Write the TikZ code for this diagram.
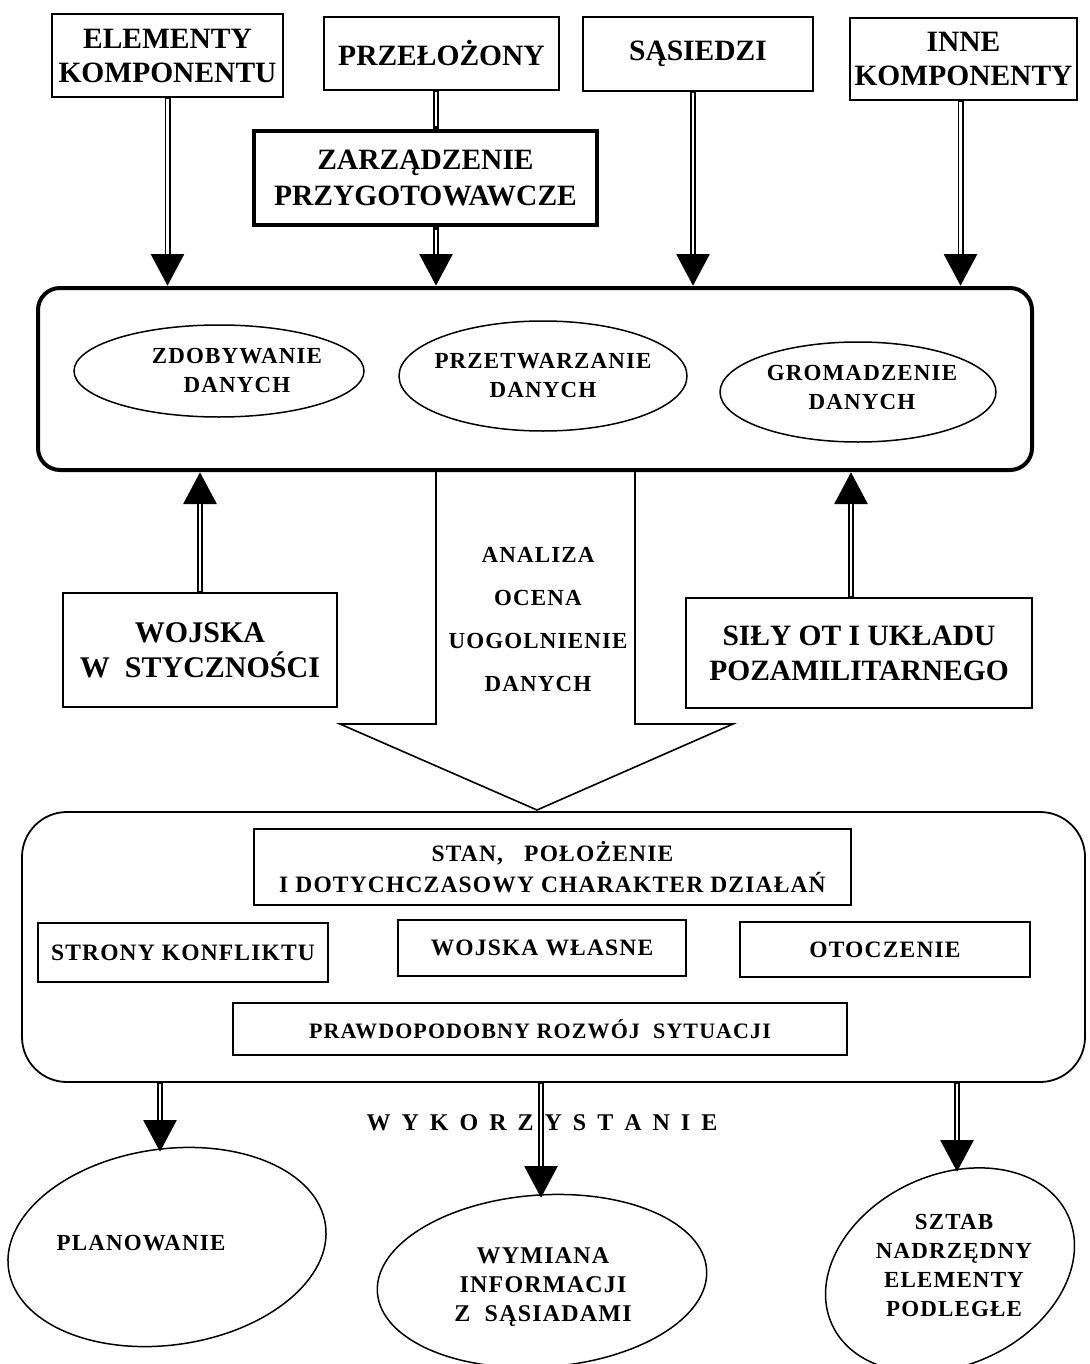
\documentclass[tikz,border=0pt]{standalone}
\usepackage{fontspec}
\setmainfont{Liberation Serif}
\newfontfamily\spacedserif[LetterSpace=5]{Liberation Serif}
\usetikzlibrary{arrows.meta,shapes.geometric}
\begin{document}
\begin{tikzpicture}[x=1pt,y=-1pt,
  srcbox/.style={draw, line width=1.6pt, rectangle, inner sep=0pt, align=center,
    font=\fontsize{29.5}{34}\selectfont\bfseries},
  inbox/.style={draw, line width=1.4pt, rectangle, inner sep=0pt, align=center,
    font=\spacedserif\fontsize{23.5}{31}\selectfont\bfseries},
  oval/.style={draw, line width=1.5pt, ellipse, inner sep=0pt, align=center},
  ovtext/.style={align=center, inner sep=0pt, font=\spacedserif\fontsize{23}{29}\selectfont\bfseries},
  dblline/.style={line width=6pt, line cap=butt},
  dblhead/.style={line width=6pt, -{Triangle[length=32pt,width=32pt]}},
  dblgap/.style={white, line width=2.6pt, line cap=butt},
]
\useasboundingbox (0,0) rectangle (1089,1364);
\fill[white] (0,0) rectangle (1089,1364);

% ---- top source boxes
\node[srcbox, minimum width=231pt, minimum height=83pt] (elem) at (167.5,55.5) {ELEMENTY\\KOMPONENTU};
\node[srcbox, minimum width=235pt, minimum height=73pt] (prze) at (441.5,53.5) {PRZEŁOŻONY};
\node[srcbox, minimum width=230pt, minimum height=74pt] (sas) at (698,54) {SĄSIEDZI};
\node[srcbox, minimum width=227pt, minimum height=82pt] (inne) at (963.5,59) {INNE\\KOMPONENTY};
\node[srcbox, line width=4.5pt, minimum width=343pt, minimum height=94pt, font=\fontsize{29.5}{36}\selectfont\bfseries] (zarz) at (425.5,178) {ZARZĄDZENIE\\PRZYGOTOWAWCZE};

% ---- upper processing box
\node[draw, line width=4pt, rounded corners=22pt, minimum width=994pt, minimum height=182pt] (top) at (535,379) {};
\node[oval, minimum width=290pt, minimum height=92pt] (e1) at (219,371) {};
\node[ovtext] (e1t) at (237,370) {ZDOBYWANIE\\DANYCH};
\node[oval, minimum width=288pt, minimum height=110pt] (e2) at (543,376) {};
\node[ovtext] (e2t) at (543,376) {PRZETWARZANIE\\DANYCH};
\node[oval, minimum width=276pt, minimum height=100pt] (e3) at (858,392) {};
\node[ovtext] (e3t) at (862,387) {GROMADZENIE\\DANYCH};

% ---- side sources
\node[srcbox, minimum width=274pt, minimum height=114pt, font=\fontsize{30}{35}\selectfont\bfseries] (woj) at (200,650) {WOJSKA\\W\ \ STYCZNOŚCI};
\node[srcbox, minimum width=346pt, minimum height=110pt, font=\fontsize{29.5}{35}\selectfont\bfseries] (sily) at (859,653) {SIŁY OT I UKŁADU\\POZAMILITARNEGO};

% ---- big hollow arrow
\coordinate (f1) at (436,470);
\coordinate (f2) at (635,470);
\coordinate (tip) at (537,810);
\draw[line width=1.6pt, line join=miter] (f1) -- (436,724) -- (340,724) -- (tip) -- (733,724) -- (635,724) -- (f2);
\node[align=center, inner sep=0pt, font=\spacedserif\fontsize{23}{43}\selectfont\bfseries] (anal) at (538,620) {ANALIZA\\OCENA\\UOGOLNIENIE\\DANYCH};

% ---- lower result box
\node[draw, line width=1.8pt, rounded corners=45pt, minimum width=1063pt, minimum height=270pt] (bot) at (553.5,947) {};
\node[inbox, minimum width=597pt, minimum height=76pt] (stan) at (552.5,867) {STAN,\ \ \ POŁOŻENIE\\I DOTYCHCZASOWY CHARAKTER DZIAŁAŃ};
\node[inbox, minimum width=290pt, minimum height=59pt] (strony) at (183,952.5) {STRONY KONFLIKTU};
\node[inbox, minimum width=288pt, minimum height=56pt] (wlasne) at (542,948) {WOJSKA WŁASNE};
\node[inbox, minimum width=290pt, minimum height=55pt] (otocz) at (885,949.5) {OTOCZENIE};
\node[inbox, minimum width=614pt, minimum height=52pt, font=\spacedserif\fontsize{22}{28}\selectfont\bfseries] (prawd) at (540,1029) {PRAWDOPODOBNY ROZWÓJ\ \ SYTUACJI};

\node[inner sep=0pt, font=\fontsize{24}{28}\selectfont\bfseries] (wyk) at (542,1123)
 {W\hspace{11pt}Y\hspace{11pt}K\hspace{11pt}O\hspace{11pt}R\hspace{11pt}Z\hspace{11pt}Y\hspace{11pt}S\hspace{11pt}T\hspace{11pt}A\hspace{11pt}N\hspace{11pt}I\hspace{11pt}E};

% ---- use ellipses
\node[oval, rotate=8, minimum width=320pt, minimum height=196pt] (plan) at (167,1247) {};
\node[ovtext] (plant) at (141,1243) {PLANOWANIE};
\node[oval, rotate=4, minimum width=330pt, minimum height=172pt] (wym) at (542,1281) {};
\node[ovtext, font=\spacedserif\fontsize{24}{29}\selectfont\bfseries] (wymt) at (543,1287) {WYMIANA\\INFORMACJI\\Z\ \ SĄSIADAMI};
\node[oval, rotate=25, minimum width=260pt, minimum height=190pt] (szt) at (950,1270) {};
\node[ovtext] (sztt) at (954,1265) {SZTAB\\NADRZĘDNY\\ELEMENTY\\PODLEGŁE};

% ---- connectors (double lines with solid heads)
% from sources to upper box
\draw[dblhead] (elem.south) -- (elem.south |- top.north);
\draw[dblgap, shorten <=1pt, shorten >=32pt] (elem.south) -- (elem.south |- top.north);

\draw[dblline] ([xshift=-5.5pt]prze.south) -- ([xshift=-5.5pt]prze.south |- zarz.north);
\draw[dblgap, shorten <=1pt, shorten >=2.5pt] ([xshift=-5.5pt]prze.south) -- ([xshift=-5.5pt]prze.south |- zarz.north);

\draw[dblhead] ([xshift=10.5pt]zarz.south) -- ([xshift=10.5pt]zarz.south |- top.north);
\draw[dblgap, shorten <=2.5pt, shorten >=32pt] ([xshift=10.5pt]zarz.south) -- ([xshift=10.5pt]zarz.south |- top.north);

\draw[dblhead] ([xshift=-5pt]sas.south) -- ([xshift=-5pt]sas.south |- top.north);
\draw[dblgap, shorten <=1pt, shorten >=32pt] ([xshift=-5pt]sas.south) -- ([xshift=-5pt]sas.south |- top.north);

\draw[dblhead] ([xshift=-3pt]inne.south) -- ([xshift=-3pt]inne.south |- top.north);
\draw[dblgap, shorten <=1pt, shorten >=32pt] ([xshift=-3pt]inne.south) -- ([xshift=-3pt]inne.south |- top.north);

% side sources up into upper box
\draw[dblhead] (woj.north) -- (woj.north |- top.south);
\draw[dblgap, shorten <=1pt, shorten >=32pt] (woj.north) -- (woj.north |- top.south);

\draw[dblhead] ([xshift=-8pt]sily.north) -- ([xshift=-8pt]sily.north |- top.south);
\draw[dblgap, shorten <=1pt, shorten >=32pt] ([xshift=-8pt]sily.north) -- ([xshift=-8pt]sily.north |- top.south);

% lower box to uses
\coordinate (t1) at (160,1152);
\coordinate (t2) at (541,1198);
\coordinate (t3) at (957,1172);
\draw[dblhead] (bot.south -| t1) -- (t1);
\draw[dblgap, shorten <=1pt, shorten >=32pt] (bot.south -| t1) -- (t1);
\draw[dblhead] (bot.south -| t2) -- (t2);
\draw[dblgap, shorten <=1pt, shorten >=32pt] (bot.south -| t2) -- (t2);
\draw[dblhead] (bot.south -| t3) -- (t3);
\draw[dblgap, shorten <=1pt, shorten >=32pt] (bot.south -| t3) -- (t3);
\end{tikzpicture}
\end{document}
